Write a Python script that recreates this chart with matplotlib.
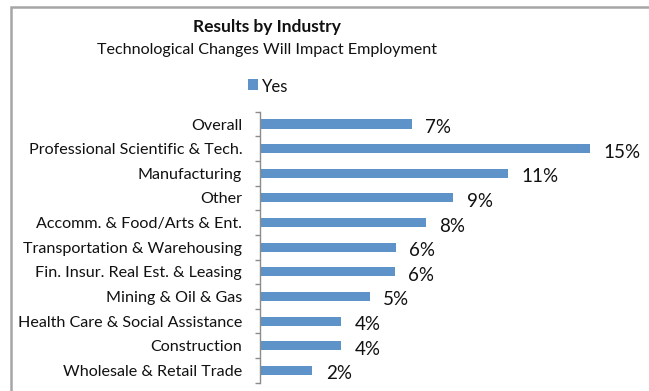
import matplotlib
matplotlib.use("Agg")
import matplotlib.pyplot as plt
from matplotlib.patches import Rectangle

industries = [
    "Overall",
    "Professional Scientific & Tech.",
    "Manufacturing",
    "Other",
    "Accomm. & Food/Arts & Ent.",
    "Transportation & Warehousing",
    "Fin. Insur. Real Est. & Leasing",
    "Mining & Oil & Gas",
    "Health Care & Social Assistance",
    "Construction",
    "Wholesale & Retail Trade",
]
yes_pct = [6.9, 15.0, 11.3, 8.8, 7.55, 6.2, 6.15, 5.0, 3.7, 3.7, 2.4]

title = "Results by Industry"
subtitle = "Technological Changes Will Impact Employment"
series_name = "Yes"

W, H = 649, 391
plt.rcParams["font.family"] = ["Lato", "DejaVu Sans"]
fig = plt.figure(figsize=(W / 100, H / 100), dpi=100)
fig.patch.set_facecolor("white")

bar_color = "#5E93C9"
axis_color = "#8C8C8C"

# chart frame (extends past the right and bottom edges)
fig.patches.append(Rectangle((10.5 / W, -0.1), 1.2, 1.1 - 6.5 / H,
                             transform=fig.transFigure, fill=False,
                             edgecolor="#A6A6A6", linewidth=1.8, zorder=0))

ax = fig.add_axes([259.5 / W, 1 - 382.7 / H, (612 - 259.5) / W, (382.7 - 111.7) / H])
y = list(range(len(industries)))
ax.barh(y, yes_pct, height=0.37, color=bar_color, zorder=2)
ax.set_xlim(0, 16)
ax.set_ylim(len(industries) - 0.5, -0.5)

for yi, v in zip(y, yes_pct):
    ax.annotate(f"{v:.0f}%", xy=(v, yi), xytext=(9.6, -2.5), textcoords="offset points",
                va="center", ha="left", fontsize=13.5, color="#111111")

for s in ["top", "right", "bottom"]:
    ax.spines[s].set_visible(False)
ax.spines["left"].set_color(axis_color)
ax.spines["left"].set_linewidth(1.0)
ax.set_xticks([])
ax.set_yticks(y)
ax.set_yticklabels(industries, fontsize=11.6, color="#111111")
ax.tick_params(axis="y", which="major", length=0, pad=12.5)
ax.set_yticks([i - 0.5 for i in range(len(industries) + 1)], minor=True)
ax.tick_params(axis="y", which="minor", length=3.5, width=1.0, color=axis_color)

fig.text(267 / W, 1 - 27 / H, title, ha="center", va="center",
         fontsize=12.5, fontweight="bold", color="#111111")
fig.text(267 / W, 1 - 50 / H, subtitle, ha="center", va="center",
         fontsize=11.6, color="#111111")
fig.patches.append(Rectangle((248 / W, 1 - 90 / H), 10 / W, 11 / H,
                             transform=fig.transFigure, facecolor=bar_color,
                             edgecolor="none"))
fig.text(262 / W, 1 - 87 / H, series_name, ha="left", va="center",
         fontsize=12, color="#111111")

fig.savefig("out.png", dpi=100, facecolor="white")
